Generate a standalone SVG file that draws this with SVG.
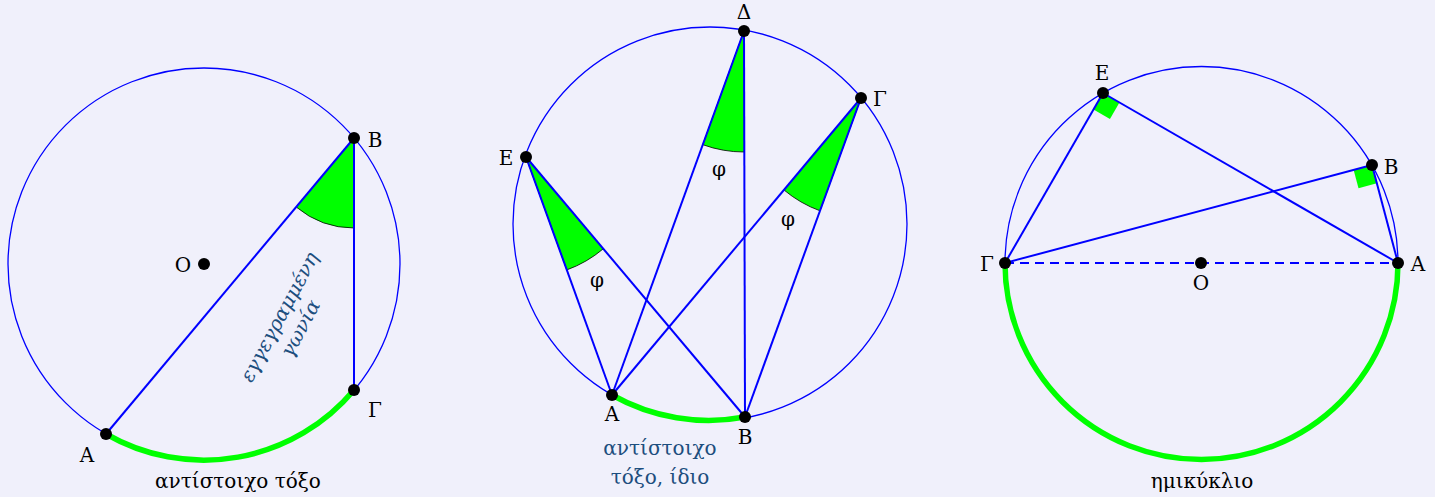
<svg xmlns="http://www.w3.org/2000/svg" width="1435" height="497" viewBox="0 0 1435 497">
<style>
.bg{fill:#f0f0fb}
.circ{fill:none;stroke:#0000ff;stroke-width:1.3}
.chord{stroke:#0000ff;stroke-width:2;fill:none}
.dash{stroke:#0000ff;stroke-width:2;stroke-dasharray:9,6;fill:none}
.arc{fill:none;stroke:#00ff00;stroke-width:5.5}
.wedge{fill:#00ff00;stroke:#000;stroke-width:0.8}
.sq{fill:#00ff00;stroke:none}
.dot{fill:#000}
.lbl{font-family:"DejaVu Serif","Liberation Serif",serif;font-size:20px;fill:#000;text-anchor:middle}
.note{font-family:"DejaVu Serif","Liberation Serif",serif;font-size:20px;fill:#1d4e7e;text-anchor:middle}
</style>
<rect class="bg" x="0" y="0" width="1435" height="497"/>

<g id="fig1">
  <circle class="circ" cx="204" cy="264" r="196"/>
  <path class="wedge" d="M354,138 L296.2,207 A90,90 0 0 0 354,228 Z"/>
  <path class="arc" d="M354,390 A196,196 0 0 1 106,434"/>
  <g id="fig1-connectors">
    <line class="chord" x1="106" y1="434" x2="354" y2="138"/>
    <line class="chord" x1="354" y1="138" x2="354" y2="390"/>
  </g>
  <g id="fig1-B"><circle class="dot" cx="354" cy="138" r="6"/><text class="lbl" x="375" y="147">Β</text></g>
  <g id="fig1-G"><circle class="dot" cx="354" cy="390" r="6"/><text class="lbl" x="375" y="417">Γ</text></g>
  <g id="fig1-A"><circle class="dot" cx="106" cy="434" r="6"/><text class="lbl" x="87" y="462">Α</text></g>
  <g id="fig1-O"><circle class="dot" cx="204" cy="264" r="6"/><text class="lbl" x="183" y="272">Ο</text></g>
  <text class="lbl" x="238" y="488">αντίστοιχο τόξο</text>
  <g transform="translate(279,317) rotate(-62)">
    <text class="note" font-style="italic" font-size="21" x="0" y="7">εγγεγραμμένη</text>
    <text class="note" font-style="italic" font-size="21" x="0" y="31">γωνία</text>
  </g>
</g>

<g id="fig2">
  <circle class="circ" cx="710" cy="224" r="197"/>
  <path class="wedge" d="M744,31 L702.8,144.7 A121,121 0 0 0 744.3,152 Z"/>
  <path class="wedge" d="M526,157 L566.8,269.9 A120,120 0 0 0 603.3,248.8 Z"/>
  <path class="wedge" d="M861,98 L784,190 A120,120 0 0 0 820,210.8 Z"/>
  <path class="arc" d="M745,417 A197,197 0 0 1 612,395"/>
  <g id="fig2-connectors">
    <line class="chord" x1="526" y1="157" x2="612" y2="395"/>
    <line class="chord" x1="526" y1="157" x2="745" y2="417"/>
    <line class="chord" x1="744" y1="31" x2="612" y2="395"/>
    <line class="chord" x1="744" y1="31" x2="745" y2="417"/>
    <line class="chord" x1="861" y1="98" x2="612" y2="395"/>
    <line class="chord" x1="861" y1="98" x2="745" y2="417"/>
  </g>
  <g id="fig2-D"><circle class="dot" cx="744" cy="31" r="6"/><text class="lbl" x="744" y="19">Δ</text></g>
  <g id="fig2-G"><circle class="dot" cx="861" cy="98" r="6"/><text class="lbl" x="880" y="106">Γ</text></g>
  <g id="fig2-E"><circle class="dot" cx="526" cy="157" r="6"/><text class="lbl" x="506" y="165">Ε</text></g>
  <g id="fig2-A"><circle class="dot" cx="612" cy="395" r="6"/><text class="lbl" x="612" y="421">Α</text></g>
  <g id="fig2-B"><circle class="dot" cx="745" cy="417" r="6"/><text class="lbl" x="745" y="444">Β</text></g>
  <text class="lbl" x="719" y="176">φ</text>
  <text class="lbl" x="597" y="287">φ</text>
  <text class="lbl" x="788" y="226">φ</text>
  <text class="note" x="660" y="455">αντίστοιχο</text>
  <text class="note" x="660" y="484">τόξο, ίδιο</text>
</g>

<g id="fig3">
  <circle class="circ" cx="1201.5" cy="263" r="196.5"/>
  <polygon class="sq" points="1103,93 1093.5,109.45 1109.95,118.95 1119.45,102.5"/>
  <polygon class="sq" points="1372,165 1353.65,169.9 1358.5,188.25 1376.86,183.35"/>
  <path class="arc" d="M1005,263 A196.5,196.5 0 0 0 1398,263"/>
  <g id="fig3-connectors">
    <line class="chord" x1="1005" y1="263" x2="1103" y2="93"/>
    <line class="chord" x1="1103" y1="93" x2="1398" y2="263"/>
    <line class="chord" x1="1005" y1="263" x2="1372" y2="165"/>
    <line class="chord" x1="1372" y1="165" x2="1398" y2="263"/>
    <line class="dash" x1="1005" y1="263" x2="1398" y2="263"/>
  </g>
  <g id="fig3-E"><circle class="dot" cx="1103" cy="93" r="6"/><text class="lbl" x="1102" y="80">Ε</text></g>
  <g id="fig3-B"><circle class="dot" cx="1372" cy="165" r="6"/><text class="lbl" x="1391" y="174">Β</text></g>
  <g id="fig3-A"><circle class="dot" cx="1398" cy="263" r="6"/><text class="lbl" x="1418" y="271">Α</text></g>
  <g id="fig3-G"><circle class="dot" cx="1005" cy="263" r="6"/><text class="lbl" x="987" y="271">Γ</text></g>
  <g id="fig3-O"><circle class="dot" cx="1201" cy="263" r="6"/><text class="lbl" x="1201" y="290">Ο</text></g>
  <text class="lbl" x="1202" y="488">ημικύκλιο</text>
</g>
</svg>
